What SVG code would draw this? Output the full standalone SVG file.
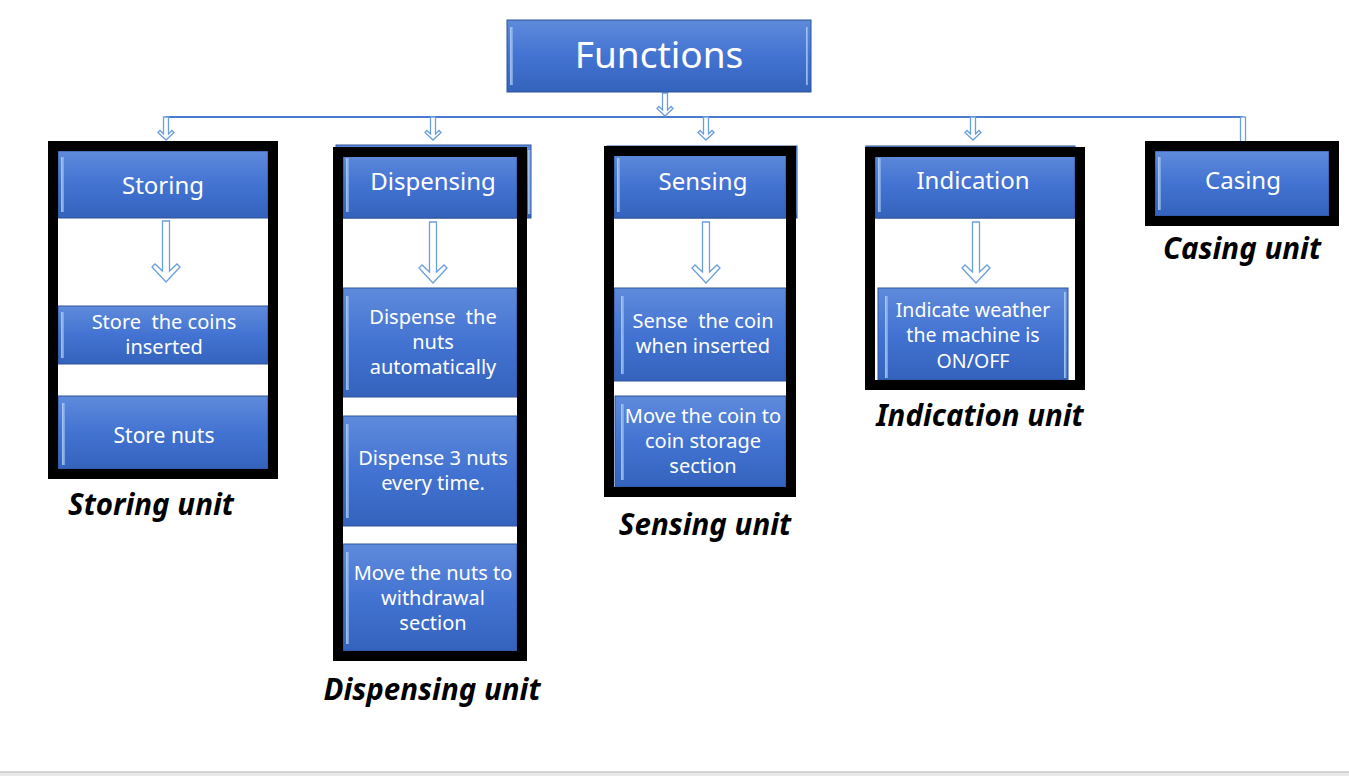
<svg xmlns="http://www.w3.org/2000/svg" width="1349" height="776" viewBox="0 0 1349 776">
<defs>
<linearGradient id="bg" x1="0" y1="0" x2="0" y2="1">
<stop offset="0" stop-color="#5f8bdb"/>
<stop offset="0.5" stop-color="#4373d2"/>
<stop offset="1" stop-color="#3463bd"/>
</linearGradient>
<linearGradient id="hg" x1="0" y1="0" x2="1" y2="0">
<stop offset="0" stop-color="#c4dcf8"/>
<stop offset="1" stop-color="#7aa6e6"/>
</linearGradient>
<path id="bigArrow" d="M-3.5,0 H3.5 V50 L11,43 L14,46 L0,61 L-14,46 L-11,43 L-3.5,50 Z"/>
<path id="smallArrow" d="M-2.5,0 H2.5 V17 L6,13.5 L8,15.5 L0,23 L-8,15.5 L-6,13.5 L-2.5,17 Z"/>
</defs>
<style>
.bx{fill:url(#bg);stroke:#2f5597;stroke-width:1}
.hl{fill:url(#hg);opacity:0.8}
.frame{fill:none;stroke:#000;stroke-width:10}
.arr{fill:#fff;stroke:#6a9edc;stroke-width:1.3}
.t{font-family:"Noto Sans","Open Sans",sans-serif;fill:#fff;text-anchor:middle;white-space:pre}
.hd{font-size:24px}
.bd{font-size:20px}
.sm{font-size:19.5px}
.lb{font-family:"Noto Sans","Open Sans",sans-serif;font-weight:bold;font-style:italic;font-size:29.5px;fill:#000;text-anchor:middle}
</style>
<rect x="0" y="0" width="1349" height="776" fill="#fff"/>
<rect x="0" y="772" width="1349" height="4" fill="#e8e8e8"/>
<line x1="0" y1="772" x2="1349" y2="772" stroke="#c8c8c8" stroke-width="1.5"/>

<g id="connectors">
<line x1="166" y1="117" x2="1243" y2="117" stroke="#4a7bd0" stroke-width="2.2"/>
<use href="#smallArrow" x="665" y="93" class="arr"/>
<use href="#smallArrow" x="166" y="117" class="arr"/>
<use href="#smallArrow" x="433" y="117" class="arr"/>
<use href="#smallArrow" x="706" y="117" class="arr"/>
<use href="#smallArrow" x="973" y="117" class="arr"/>
<rect x="1240.5" y="117" width="5" height="26" class="arr"/>
<use href="#bigArrow" x="166" y="221" class="arr"/>
<use href="#bigArrow" x="433" y="222" class="arr"/>
<use href="#bigArrow" x="706" y="222" class="arr"/>
<use href="#bigArrow" x="976" y="222" class="arr"/>
</g>

<g id="functions">
<rect x="507" y="20" width="304" height="72" class="bx"/>
<rect x="510" y="27" width="3" height="58" class="hl"/>
<rect x="806" y="27" width="2" height="58" class="hl"/>
<text x="659" y="68" class="t" font-size="37">Functions</text>
</g>

<g id="storing">
<rect x="58" y="151" width="210" height="67" class="bx"/>
<rect x="61" y="157" width="3" height="55" class="hl"/>
<text x="163" y="194" class="t hd">Storing</text>
<rect x="58" y="306" width="210" height="58" class="bx"/>
<rect x="61" y="312" width="3" height="46" class="hl"/>
<text x="164" y="329" class="t bd">Store  the coins</text>
<text x="164" y="354" class="t bd">inserted</text>
<rect x="58" y="396" width="210" height="73" class="bx"/>
<rect x="62" y="403" width="3" height="62" class="hl"/>
<text x="164" y="443" class="t" font-size="21">Store nuts</text>
<rect x="53" y="146" width="220" height="328" class="frame"/>
<text x="151" y="515" class="lb">Storing unit</text>
</g>

<g id="dispensing">
<rect x="336" y="145" width="195" height="73" class="bx"/>
<rect x="528" y="150" width="2.5" height="64" class="hl"/>
<rect x="343" y="152" width="174" height="66" class="bx"/>
<rect x="346" y="158" width="3" height="54" class="hl"/>
<text x="433" y="190" class="t hd">Dispensing</text>
<rect x="343" y="288" width="174" height="109" class="bx"/>
<rect x="346" y="296" width="3" height="94" class="hl"/>
<text x="433" y="324" class="t bd">Dispense  the</text>
<text x="433" y="349" class="t bd">nuts</text>
<text x="433" y="374" class="t bd">automatically</text>
<rect x="343" y="416" width="174" height="110" class="bx"/>
<rect x="346" y="424" width="3" height="94" class="hl"/>
<text x="433" y="465" class="t bd">Dispense 3 nuts</text>
<text x="433" y="490" class="t bd">every time.</text>
<rect x="343" y="544" width="174" height="107" class="bx"/>
<rect x="346" y="552" width="3" height="92" class="hl"/>
<text x="433" y="580" class="t bd">Move the nuts to</text>
<text x="433" y="605" class="t bd">withdrawal</text>
<text x="433" y="630" class="t bd">section</text>
<rect x="338" y="152" width="184" height="504" class="frame"/>
<text x="432" y="700" class="lb">Dispensing unit</text>
</g>

<g id="sensing">
<rect x="607" y="146" width="190" height="72" class="bx"/>
<rect x="794" y="151" width="2.5" height="63" class="hl"/>
<rect x="614" y="152" width="172" height="66" class="bx"/>
<rect x="617" y="158" width="3" height="54" class="hl"/>
<text x="703" y="190" class="t hd">Sensing</text>
<rect x="614" y="288" width="172" height="93" class="bx"/>
<rect x="621" y="296" width="3" height="78" class="hl"/>
<text x="703" y="328" class="t bd">Sense  the coin</text>
<text x="703" y="353" class="t bd">when inserted</text>
<rect x="615" y="396" width="171" height="91" class="bx"/>
<rect x="621" y="404" width="3" height="76" class="hl"/>
<text x="703" y="423" class="t bd">Move the coin to</text>
<text x="703" y="448" class="t bd">coin storage</text>
<text x="703" y="473" class="t bd">section</text>
<rect x="609" y="151" width="182" height="341" class="frame"/>
<text x="705" y="535" class="lb">Sensing unit</text>
</g>

<g id="indication">
<rect x="866" y="146" width="209" height="72" class="bx"/>
<rect x="875" y="152" width="200" height="66" class="bx"/>
<rect x="878" y="158" width="3" height="54" class="hl"/>
<text x="973" y="189" class="t hd">Indication</text>
<rect x="878" y="288" width="190" height="92" class="bx"/>
<rect x="885" y="296" width="3" height="82" class="hl"/>
<rect x="1064" y="292" width="2.5" height="86" class="hl"/>
<text x="973" y="317" class="t sm">Indicate weather</text>
<text x="973" y="342" class="t sm">the machine is</text>
<text x="973" y="368" class="t sm">ON/OFF</text>
<rect x="870" y="152" width="210" height="233" class="frame"/>
<text x="980" y="426" class="lb">Indication unit</text>
</g>

<g id="casing">
<rect x="1155" y="151" width="174" height="65" class="bx"/>
<rect x="1158" y="157" width="3" height="53" class="hl"/>
<text x="1243" y="189" class="t hd">Casing</text>
<rect x="1150" y="146" width="184" height="75" class="frame"/>
<text x="1242" y="259" class="lb">Casing unit</text>
</g>
</svg>
